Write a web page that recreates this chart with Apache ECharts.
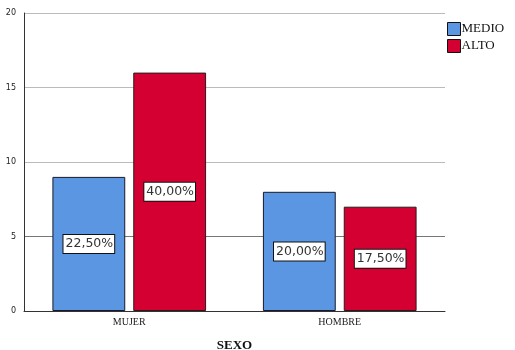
<!DOCTYPE html>
<html>
<head>
<meta charset="utf-8">
<script src="https://cdn.jsdelivr.net/npm/echarts@6/dist/echarts.min.js"></script>
<style>
  html, body { margin: 0; padding: 0; background: #fff; }
  #chart { width: 515px; height: 350px; }
</style>
</head>
<body>
<div id="chart"></div>
<script>
// Counts by sex and level
const categories = ['MUJER', 'HOMBRE'];
const medio = [9, 8];
const alto = [16, 7];
const total = 40;
const yTicks = [0, 5, 10, 15, 20];

const pct = v => (v / total * 100).toFixed(2).replace('.', ',') + '%';

const labelStyle = {
  show: true,
  position: 'inside',
  formatter: p => pct(p.value),
  fontFamily: 'DejaVu Sans',
  fontSize: 12.5,
  color: '#333',
  backgroundColor: '#fff',
  borderColor: '#111',
  borderWidth: 1,
  padding: [3, 1, 2, 2]
};

const chart = echarts.init(document.getElementById('chart'), null, { renderer: 'canvas' });
chart.setOption({
  animation: false,
  grid: { left: 24, right: 70, top: 13, bottom: 39, containLabel: false, outerBoundsMode: 'none' },
  legend: {
    data: ['MEDIO', 'ALTO'],
    orient: 'vertical',
    left: 447,
    top: 22,
    padding: 0,
    itemWidth: 13,
    itemHeight: 13,
    itemGap: 3,
    icon: 'rect',
    itemStyle: { borderWidth: 1, borderColor: '#111' },
    textStyle: { fontFamily: 'Liberation Serif', fontSize: 13, color: '#111', padding: [0, 0, 0, -4] }
  },
  xAxis: {
    type: 'category',
    data: categories,
    axisLine: { lineStyle: { color: '#333', width: 1 } },
    axisTick: { show: false },
    axisLabel: { fontFamily: 'Liberation Serif', fontSize: 10, color: '#222', margin: 6 },
    name: 'SEXO',
    nameLocation: 'middle',
    nameGap: 28,
    nameTextStyle: { fontFamily: 'Liberation Serif', fontSize: 13, fontWeight: 'bold', color: '#111' }
  },
  yAxis: {
    type: 'value',
    min: yTicks[0],
    max: yTicks[yTicks.length - 1],
    interval: 5,
    axisLine: { show: true, lineStyle: { color: '#333', width: 1 } },
    axisTick: { show: false },
    axisLabel: { fontFamily: 'DejaVu Sans', fontSize: 8, color: '#222', margin: 8 },
    splitLine: { show: true, lineStyle: { color: ['#888', '#777', '#bbb', '#bbb', '#bbb'], width: 1 } }
  },
  series: [
    {
      name: 'MEDIO', type: 'bar', data: medio,
      barCategoryGap: '27%', barGap: '11%',
      itemStyle: { color: '#5a96e2', borderColor: '#1a1a2a', borderWidth: 1 },
      label: labelStyle
    },
    {
      name: 'ALTO', type: 'bar', data: alto,
      barCategoryGap: '27%', barGap: '11%',
      itemStyle: { color: '#d50032', borderColor: '#2a1a1a', borderWidth: 1 },
      label: labelStyle
    }
  ]
});
</script>
</body>
</html>
